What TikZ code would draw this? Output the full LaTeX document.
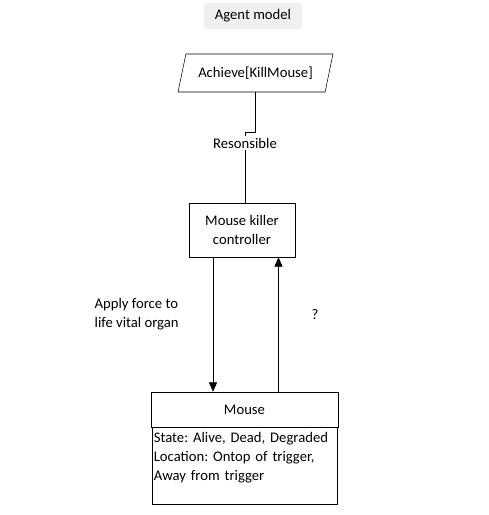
\documentclass[tikz,border=0pt]{standalone}
\usepackage{fontspec}
\setmainfont{Carlito}
\usetikzlibrary{shapes.geometric, arrows.meta}
\frenchspacing

\tikzset{
  box/.style={draw, minimum width=79.5pt, minimum height=40.5pt},
  goal/.style={draw, trapezium, trapezium left angle=72, trapezium right angle=108,
    trapezium stretches=true, minimum width=116.25pt, minimum height=28.5pt}
}

\begin{document}
\begin{tikzpicture}[x=0.75pt, y=-0.75pt, font=\fontsize{11}{14.5}\selectfont,
    >={Triangle[width=6pt,length=7pt]}]
        \useasboundingbox (0,0) rectangle (489,515);

        \node (title) [fill=black!6, minimum width=74pt, minimum height=19pt] at (253,16) {Agent model};
        \node (goal) [goal] at (255.5,73) {Achieve[KillMouse]};
        \node (resp) [inner ysep=1pt] at (245,143) {Resonsible};
        \node (ctrl) [box, align=center] at (242,230) {Mouse killer\\controller};
        \node (mouse) [box, minimum width=140.25pt, minimum height=26.25pt] at (244.5,409.5) {Mouse};
        \node (attr) [draw, anchor=north, text width=136pt, inner xsep=1.5pt, align=left,
            minimum height=56.25pt] at (mouse.south)
            {State: Alive, Dead, Degraded\\Location: Ontop of trigger,\\Away from trigger\\\mbox{}};
        \node (apply) [anchor=west, align=left] at (90,314) {Apply force to\\life vital organ};
        \node (query) at (315,315) {?};

        \draw (goal.south) -- ++(0,40) -| (resp.north);
        \draw (resp.south) -- (resp.south |- ctrl.north);
        \draw[->] ([xshift=-21.75pt]ctrl.south) -- ([xshift=-21.75pt]ctrl.south |- mouse.north);
        \draw[->] ([xshift=25.5pt]mouse.north) -- ([xshift=25.5pt]mouse.north |- ctrl.south);
    \end{tikzpicture}
\end{document}
